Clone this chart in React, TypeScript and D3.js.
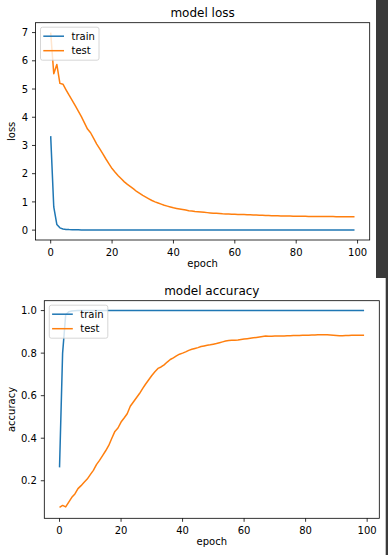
import React from 'react';
import * as d3 from 'd3';

// epochs 0..99
const epochs: number[] = d3.range(100);

const lossTrain: number[] = [
  3.33, 0.82, 0.2, 0.08, 0.04, 0.025, 0.018, 0.014, 0.011, 0.009,
  0.008, 0.0075, 0.007, 0.0065, 0.006, 0.0058, 0.0055, 0.0052, 0.005, 0.0048,
  0.0046, 0.0044, 0.0042, 0.004, 0.0038, 0.0037, 0.0036, 0.0035, 0.0034, 0.0033,
  0.0032, 0.0031, 0.003, 0.0029, 0.0028, 0.0027, 0.0027, 0.0026, 0.0025, 0.0025,
  0.0024, 0.0023, 0.0023, 0.0022, 0.0022, 0.0021, 0.0021, 0.002, 0.002, 0.0019,
  0.0019, 0.0018, 0.0018, 0.0018, 0.0017, 0.0017, 0.0016, 0.0016, 0.0016, 0.0015,
  0.0015, 0.0015, 0.0014, 0.0014, 0.0014, 0.0013, 0.0013, 0.0013, 0.0013, 0.0012,
  0.0012, 0.0012, 0.0012, 0.0011, 0.0011, 0.0011, 0.0011, 0.001, 0.001, 0.001,
  0.001, 0.001, 0.0009, 0.0009, 0.0009, 0.0009, 0.0009, 0.0008, 0.0008, 0.0008,
  0.0008, 0.0008, 0.0008, 0.0007, 0.0007, 0.0007, 0.0007, 0.0007, 0.0007, 0.0007,
];

const lossTest: number[] = [
  7.0, 5.54, 5.87, 5.2, 5.17, 4.97, 4.78, 4.6, 4.41, 4.22,
  4.02, 3.8, 3.58, 3.45, 3.25, 3.05, 2.88, 2.7, 2.52, 2.35,
  2.18, 2.05, 1.93, 1.82, 1.71, 1.62, 1.54, 1.46, 1.37, 1.3,
  1.23, 1.17, 1.11, 1.05, 1.0, 0.96, 0.92, 0.88, 0.85, 0.82,
  0.79, 0.77, 0.75, 0.73, 0.71, 0.69, 0.68, 0.66, 0.65, 0.64,
  0.63, 0.62, 0.61, 0.6, 0.595, 0.59, 0.58, 0.575, 0.57, 0.565,
  0.56, 0.557, 0.553, 0.55, 0.546, 0.543, 0.54, 0.535, 0.53, 0.525,
  0.52, 0.516, 0.513, 0.51, 0.507, 0.504, 0.501, 0.499, 0.497, 0.495,
  0.493, 0.491, 0.49, 0.488, 0.487, 0.486, 0.485, 0.484, 0.483, 0.482,
  0.481, 0.48, 0.479, 0.478, 0.478, 0.477, 0.476, 0.476, 0.475, 0.475,
];

const accTrain: number[] = [
  0.263, 0.8, 0.98, 0.995, 0.998, 0.999, 1.0, 1.0, 1.0, 1.0,
  1.0, 1.0, 1.0, 1.0, 1.0, 1.0, 1.0, 1.0, 1.0, 1.0,
  1.0, 1.0, 1.0, 1.0, 1.0, 1.0, 1.0, 1.0, 1.0, 1.0,
  1.0, 1.0, 1.0, 1.0, 1.0, 1.0, 1.0, 1.0, 1.0, 1.0,
  1.0, 1.0, 1.0, 1.0, 1.0, 1.0, 1.0, 1.0, 1.0, 1.0,
  1.0, 1.0, 1.0, 1.0, 1.0, 1.0, 1.0, 1.0, 1.0, 1.0,
  1.0, 1.0, 1.0, 1.0, 1.0, 1.0, 1.0, 1.0, 1.0, 1.0,
  1.0, 1.0, 1.0, 1.0, 1.0, 1.0, 1.0, 1.0, 1.0, 1.0,
  1.0, 1.0, 1.0, 1.0, 1.0, 1.0, 1.0, 1.0, 1.0, 1.0,
  1.0, 1.0, 1.0, 1.0, 1.0, 1.0, 1.0, 1.0, 1.0, 1.0,
];

const accTest: number[] = [
  0.075, 0.084, 0.077, 0.1, 0.122, 0.138, 0.163, 0.177, 0.193, 0.208,
  0.229, 0.249, 0.276, 0.296, 0.318, 0.341, 0.366, 0.4, 0.432, 0.448,
  0.476, 0.495, 0.515, 0.55, 0.57, 0.59, 0.61, 0.633, 0.655, 0.675,
  0.695, 0.712, 0.728, 0.735, 0.745, 0.758, 0.77, 0.778, 0.787, 0.795,
  0.8, 0.806, 0.813, 0.818, 0.822, 0.826, 0.831, 0.834, 0.837, 0.839,
  0.842, 0.845, 0.849, 0.853, 0.857, 0.859, 0.86, 0.861, 0.862, 0.864,
  0.866, 0.868, 0.87, 0.872, 0.874, 0.876, 0.878, 0.88, 0.879, 0.879,
  0.88, 0.88, 0.881, 0.881, 0.882, 0.882, 0.883, 0.883, 0.883, 0.884,
  0.884, 0.884, 0.885, 0.885, 0.886, 0.886, 0.887, 0.886, 0.885, 0.884,
  0.883, 0.882, 0.882, 0.883, 0.883, 0.884, 0.884, 0.884, 0.884, 0.884,
];

const xTicks: number[] = [0, 20, 40, 60, 80, 100];
const lossTicks: number[] = [0, 1, 2, 3, 4, 5, 6, 7];
const accTicks: number[] = [0.2, 0.4, 0.6, 0.8, 1.0];
const seriesNames: string[] = ['train', 'test'];

const FONT = '"DejaVu Sans", sans-serif';
const COLORS = ['#1f77b4', '#ff7f0e'];

type PanelProps = {
  box: { left: number; top: number; right: number; bottom: number };
  yDomain: [number, number];
  yTicks: number[];
  yFormat: (v: number) => string;
  train: number[];
  test: number[];
  title: string;
  ylabel: string;
};

function Panel({ box, yDomain, yTicks, yFormat, train, test, title, ylabel }: PanelProps) {
  const x = d3.scaleLinear().domain([-4.95, 103.95]).range([box.left, box.right]);
  const y = d3.scaleLinear().domain(yDomain).range([box.bottom, box.top]);
  const line = d3.line<number>().x((_, i) => x(epochs[i])).y(d => y(d));
  const cx = (box.left + box.right) / 2;
  const cy = (box.top + box.bottom) / 2;
  const lg = { x: box.left + 5, y: box.top + 4.5 };

  return (
    <g fontFamily={FONT} fill="#000">
      {[train, test].map((s, i) => (
        <path key={i} d={line(s) || ''} fill="none" stroke={COLORS[i]} strokeWidth={1.5} strokeLinejoin="round" />
      ))}
      <rect x={box.left} y={box.top} width={box.right - box.left} height={box.bottom - box.top}
        fill="none" stroke="#000" strokeWidth={0.8} />
      {xTicks.map(t => (
        <g key={t}>
          <line x1={x(t)} x2={x(t)} y1={box.bottom} y2={box.bottom + 3.5} stroke="#000" strokeWidth={0.8} />
          <text x={x(t)} y={box.bottom + 15.5} fontSize={10} textAnchor="middle">{t}</text>
        </g>
      ))}
      {yTicks.map(t => (
        <g key={t}>
          <line x1={box.left - 3.5} x2={box.left} y1={y(t)} y2={y(t)} stroke="#000" strokeWidth={0.8} />
          <text x={box.left - 7.5} y={y(t) + 3.6} fontSize={10} textAnchor="end">{yFormat(t)}</text>
        </g>
      ))}
      <text x={cx} y={box.top - 5.8} fontSize={12} textAnchor="middle">{title}</text>
      <text x={cx} y={box.bottom + 27} fontSize={10} textAnchor="middle">epoch</text>
      <text transform={`translate(15,${cy}) rotate(-90)`} fontSize={10} textAnchor="middle">{ylabel}</text>
      <rect x={lg.x} y={lg.y} width={58.5} height={33} rx={2} fill="#fff" fillOpacity={0.8}
        stroke="#ccc" strokeWidth={0.8} />
      {seriesNames.map((n, i) => (
        <g key={n}>
          <line x1={lg.x + 2.8} x2={lg.x + 23.5} y1={lg.y + 9 + i * 14.5} y2={lg.y + 9 + i * 14.5}
            stroke={COLORS[i]} strokeWidth={1.5} />
          <text x={lg.x + 31} y={lg.y + 12.6 + i * 14.5} fontSize={10}>{n}</text>
        </g>
      ))}
    </g>
  );
}

export default function App() {
  return (
    <svg width={388} height={555} style={{ position: 'absolute', left: 0, top: 0, background: '#fff' }}>
      <rect x={0} y={0} width={388} height={555} fill="#fff" />
      <Panel
        box={{ left: 35.5, top: 22.7, right: 369.7, bottom: 240 }}
        yDomain={[-0.35, 7.35]}
        yTicks={lossTicks}
        yFormat={d3.format('d')}
        train={lossTrain}
        test={lossTest}
        title="model loss"
        ylabel="loss"
      />
      <Panel
        box={{ left: 44.3, top: 300.7, right: 379.3, bottom: 518.3 }}
        yDomain={[0.0235, 1.0465]}
        yTicks={accTicks}
        yFormat={d3.format('.1f')}
        train={accTrain}
        test={accTest}
        title="model accuracy"
        ylabel="accuracy"
      />
      <rect x={376} y={0} width={12} height={278} fill="#3a3a3a" />
      <rect x={385.7} y={278} width={2.3} height={277} fill="#3a3a3a" />
    </svg>
  );
}
